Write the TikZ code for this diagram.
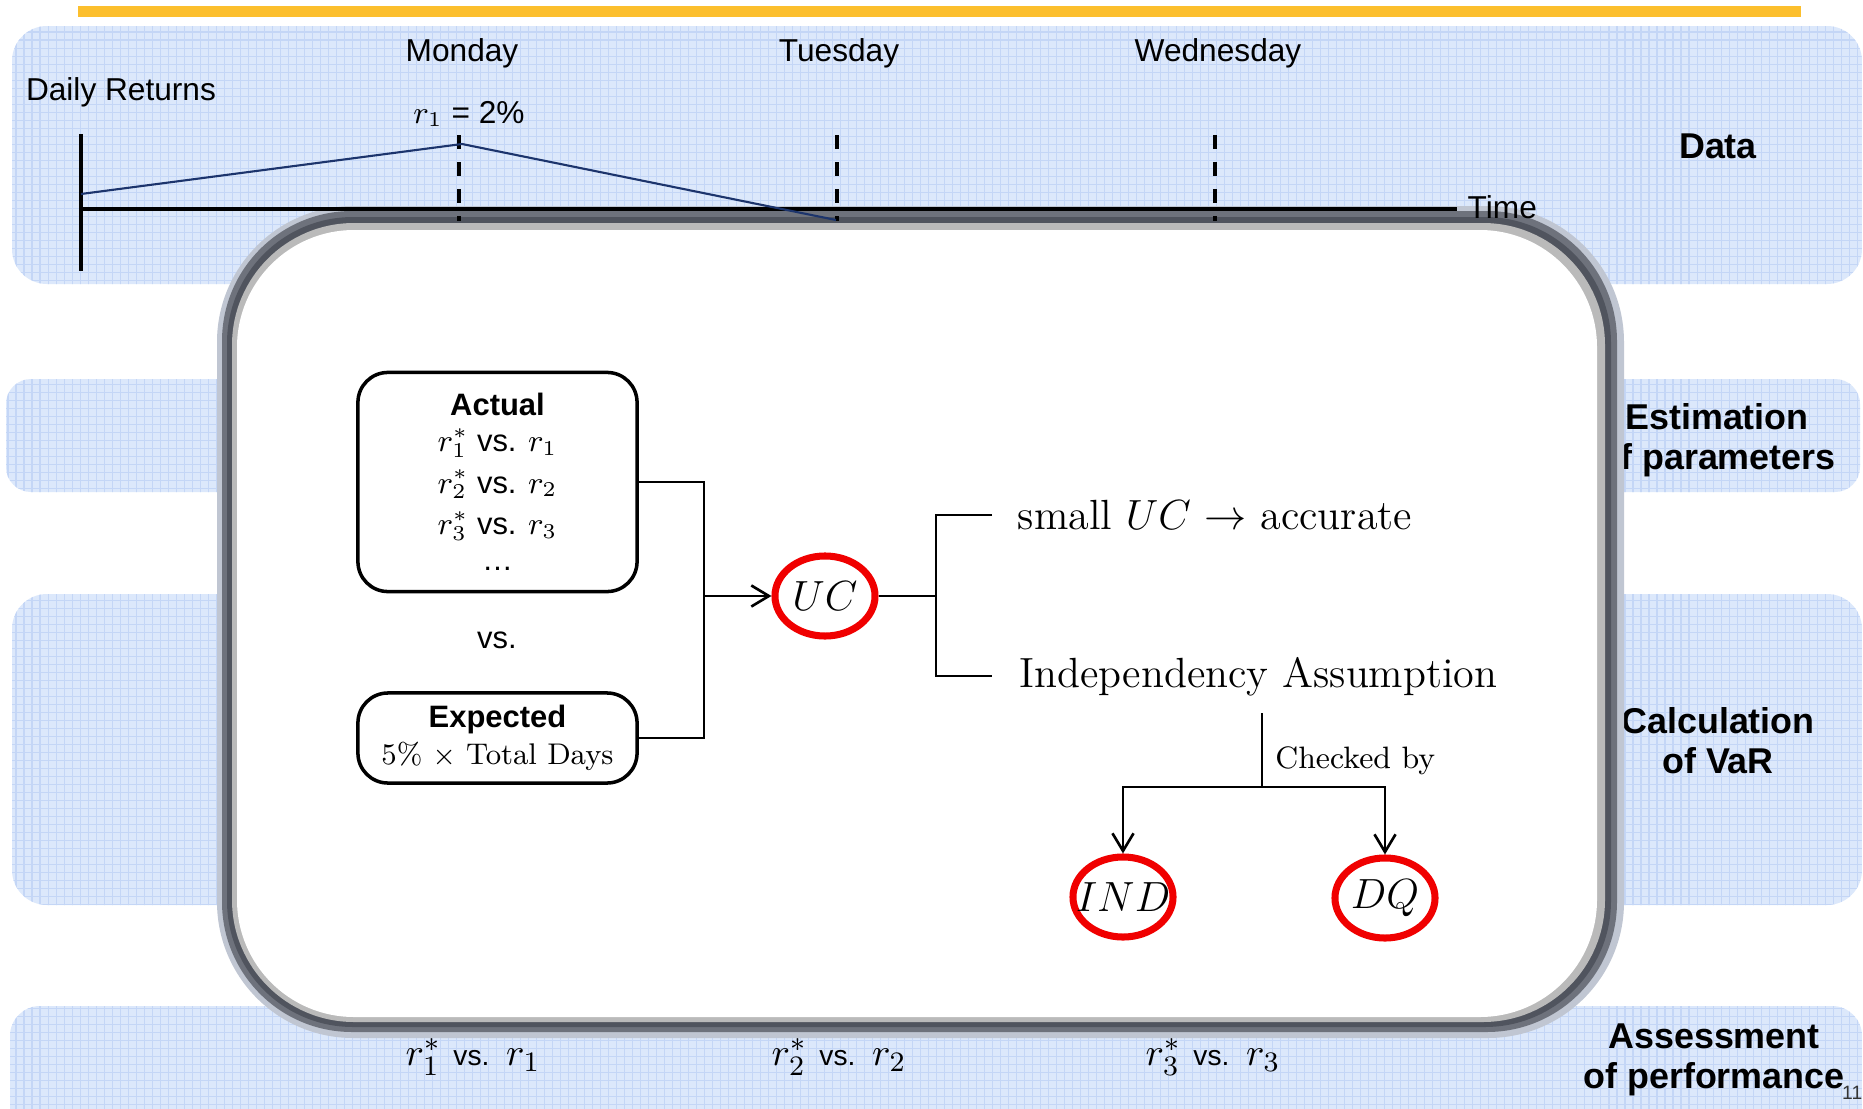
\documentclass[tikz,border=0pt]{standalone}
\usepackage{fontspec}
\newfontfamily\arial{Liberation Sans}
\usetikzlibrary{arrows.meta,positioning,shapes.geometric}

\definecolor{bargold}{RGB}{252,191,45}
\definecolor{bandblue}{RGB}{220,232,251}
\definecolor{gridblue}{RGB}{196,214,246}
\definecolor{retnavy}{RGB}{28,52,108}
\definecolor{rimfade}{RGB}{192,198,210}
\definecolor{rimdark}{RGB}{110,114,124}
\definecolor{rimdeep}{RGB}{80,84,94}
\definecolor{rimlight}{RGB}{186,186,186}
\definecolor{ringred}{RGB}{240,0,0}

\newcommand{\dayfont}{\arial\fontsize{9}{11}\selectfont}
\newcommand{\stagefont}{\arial\bfseries\fontsize{10.2}{11.4}\selectfont}
\newcommand{\boxfont}{\arial\fontsize{8.8}{10.2}\selectfont}
\newcommand{\bigfont}{\fontsize{12}{14}\selectfont}
\newcommand{\ringfont}{\fontsize{11.5}{13}\selectfont}

\begin{document}
\begin{tikzpicture}[x=0.01cm,y=-0.01cm]
    \tikzstyle{every node}+=[inner sep=0pt]
    \tikzstyle{band}=[fill=bandblue]
    \tikzstyle{bandgrid}=[gridblue, line width=0.3pt, step=0.08cm]
    \tikzstyle{wire}=[black, line width=0.75pt]
    \tikzstyle{arr}=[wire, -{Straight Barb[length=5pt,width=6pt]}]
    \tikzstyle{box}=[draw=black, line width=1pt, rounded corners=0.3cm, minimum width=2.79cm, align=center, font=\boxfont]
    \tikzstyle{ring}=[ellipse, draw=ringred, line width=2pt, minimum width=1cm, minimum height=0.8cm]
    \tikzstyle{dayline}=[black, line width=0.9pt, dash pattern=on 4pt off 3.7pt]
    \useasboundingbox (0,0) rectangle (1863,1109);
    \fill[white] (0,0) rectangle (1863,1109);
    \fill[bargold] (78,6) rectangle (1801,17);
    % the four stage bands
    \begin{scope}
    \clip[rounded corners=0.35cm] (12,26) rectangle (1862,284);
    \fill[band] (0,0) rectangle (1863,300);
    \draw[bandgrid] (0,300) grid (1863,0);
    \end{scope}
    \begin{scope}
    \clip[rounded corners=0.25cm] (6,379) rectangle (1860,492);
    \fill[band] (0,370) rectangle (1863,500);
    \draw[bandgrid] (0,500) grid (1863,370);
    \end{scope}
    \begin{scope}
    \clip[rounded corners=0.35cm] (12,594) rectangle (1862,905);
    \fill[band] (0,590) rectangle (1863,910);
    \draw[bandgrid] (0,910) grid (1863,590);
    \end{scope}
    \begin{scope}
    \clip[rounded corners=0.3cm] (10,1006) rectangle (1862,1160);
    \fill[band] (0,1000) rectangle (1863,1109);
    \draw[bandgrid] (0,1109) grid (1863,1000);
    \end{scope}
    \node[font=\stagefont] (data) at (1718,146) {Data};
    \node[font=\stagefont, align=center] (est) at (1717,440) {Estimation\\of parameters};
    \node[font=\stagefont, align=center] (calc) at (1718,741) {Calculation\\of VaR};
    \node[gray!40!black, font=\arial\fontsize{5.5}{6}\selectfont, anchor=east] (pgno) at (1863,1093) {11};
    \node[font=\stagefont, align=center] (assess) at (1714,1060) {Assessment\\of performance};
    \node[font=\fontsize{11}{13}\selectfont] (cmp1) at (473,1057) {$r_1^*$ {\arial\fontsize{8}{9}\selectfont vs.} $r_1$};
    \node[font=\fontsize{11}{13}\selectfont] (cmp2) at (839,1057) {$r_2^*$ {\arial\fontsize{8}{9}\selectfont vs.} $r_2$};
    \node[font=\fontsize{11}{13}\selectfont] (cmp3) at (1213,1057) {$r_3^*$ {\arial\fontsize{8}{9}\selectfont vs.} $r_3$};
    % callout panel
    \fill[rimfade, rounded corners=1.36cm] (217,206) rectangle (1624,1038);
    \fill[rimdark, rounded corners=1.3cm] (222,211) rectangle (1617,1032);
    \fill[rimdeep, rounded corners=1.26cm] (227,217) rectangle (1611,1027);
    \fill[rimlight, rounded corners=1.22cm] (232,223) rectangle (1605,1022);
    \fill[white, rounded corners=1.17cm] (237,230) rectangle (1597,1017);
    % timeline
    \coordinate (ytop) at (81,134);
    \coordinate (ybot) at (81,271);
    \coordinate (orig) at (81,209);
    \coordinate (tend) at (1457,209);
    \draw[black, line width=0.9pt] (ytop) -- (ybot);
    \draw[black, line width=1.2pt] (orig) -- (tend);
    \node[font=\dayfont, anchor=west] (time) at (1467,207) {Time};
    \node[font=\dayfont] (daily) at (121,92) {Daily Returns};
    \node[font=\dayfont] (mon) at (462,53) {Monday};
    \node[font=\dayfont] (tue) at (839,53) {Tuesday};
    \node[font=\dayfont] (wed) at (1218,53) {Wednesday};
    \node[font=\dayfont] (rone) at (469,114) {$r_1$ = 2\%};
    \draw[dayline] (459,135) -- (459,221);
    \draw[dayline] (837,135) -- (837,221);
    \draw[dayline] (1215,135) -- (1215,221);
    \coordinate (ret0) at (81,194);
    \coordinate (ret1) at (462,144);
    \coordinate (ret2) at (836,220);
    \draw[retnavy, line width=0.6pt] (ret0) -- (ret1) -- (ret2);
    % backtesting scheme
    \node[box, minimum height=2.19cm] (act) at (497.5,482) {{\bfseries Actual}\\$r_1^*$ vs. $r_1$\\[1.6pt]$r_2^*$ vs. $r_2$\\[1.6pt]$r_3^*$ vs. $r_3$\\\dots};
    \node[font=\boxfont] (vs) at (497,640) {vs.};
    \node[box, minimum height=0.9cm] (exp) at (497.5,738) {{\bfseries Expected}\\[0.5pt]{\rmfamily\fontsize{8.5}{10.2}\selectfont 5\% $\times$ Total Days}};
    \node[ring, label={[font=\ringfont]center:$UC$}] (uc) at (825,596) {};
    \node[ring, label={[font=\ringfont]center:$IND$}] (ind) at (1123,897) {};
    \node[ring, label={[font=\ringfont]center:$DQ$}] (dq) at (1385,898) {};
    \node[font=\bigfont, anchor=west] (acc) at (1017,515) {small $UC$ $\rightarrow$ accurate};
    \node[font=\bigfont, anchor=west] (indep) at (1019,677) {Independency Assumption};
    \coordinate (jn) at (704,596);
    \draw[wire] (act.east) -| (jn);
    \draw[wire] (exp.east) -| (jn);
    \draw[arr] (jn) -- (uc.west);
    \coordinate (br) at (936,596);
    \coordinate (tA) at (992,515);
    \coordinate (tB) at (992,676);
    \draw[wire] (uc.east) -- (br);
    \draw[wire] (tA) -| (br) |- (tB);
    \coordinate (ckTop) at (1262,713);
    \coordinate (ck) at (1262,787);
    \draw[wire] (ckTop) -- node[pos=0.64, right=0.12cm, font=\fontsize{8.8}{10}\selectfont] (chk) {Checked by} (ck);
    \draw[arr] (ck) -| (ind.north);
    \draw[arr] (ck) -| (dq.north);
\end{tikzpicture}
\end{document}
